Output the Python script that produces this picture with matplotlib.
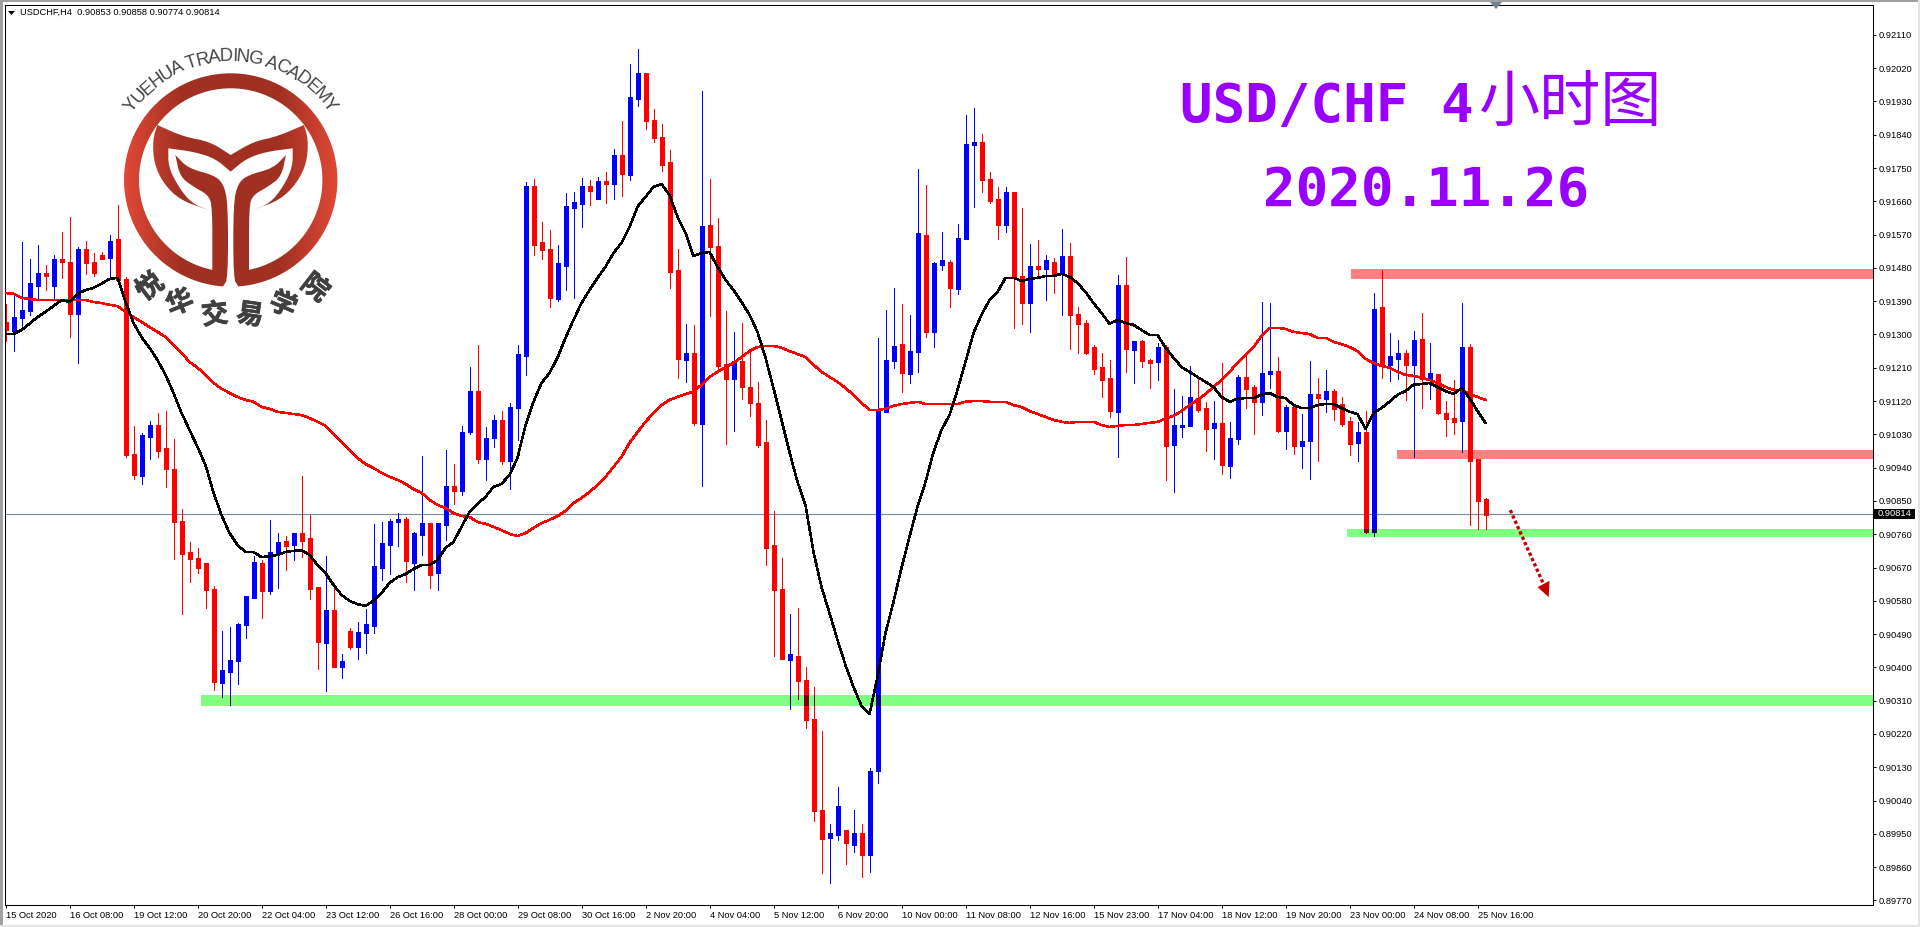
import matplotlib
matplotlib.use('Agg')
import matplotlib.pyplot as plt
import matplotlib.patheffects as pe
import numpy as np
from matplotlib.colors import to_rgb
from matplotlib.patches import Rectangle, Polygon, PathPatch
from matplotlib.path import Path

# USDCHF H4 prices, in points (1e-5)
highs = [91383,91407,91550,91504,91542,91488,91515,91577,91618,91537,
         91553,91520,91523,91569,91650,91456,91053,91034,91066,91088,
         91093,91018,90828,90739,90723,90682,90620,90498,90509,90520,
         90593,90701,90690,90799,90763,90755,90763,90918,90812,90617,
         90701,90628,90436,90507,90523,90558,90788,90793,90801,90817,
         90807,90766,90972,90790,90790,90988,90950,91053,91212,91272,
         91050,91082,91093,91115,91272,91712,91721,91604,91583,91542,
         91683,91685,91723,91718,91726,91740,91802,91877,92032,92072,
         92005,91910,91869,91799,91531,91329,91326,91959,91721,91615,
         91364,91307,91331,91255,91172,91069,90823,90696,90544,90561,
         90401,90347,90228,89977,90077,89960,90014,89977,90128,91291,
         91366,91426,91383,91353,91748,91704,91496,91577,91502,91599,
         91894,91913,91842,91740,91699,91699,91685,91642,91545,91556,
         91515,91507,91585,91548,91374,91339,91272,91250,91231,91461,
         91510,91283,91285,91234,91277,91272,91153,91134,91215,91185,
         91118,91120,91223,91064,91191,91245,91164,91388,91385,91239,
         91109,91104,91085,91228,91183,91204,91153,91131,91077,91064,
         91093,91412,91475,91304,91285,91258,91310,91358,91277,91193,
         91120,91177,91385,91274,90961,90858]
opens = [91334,91310,91345,91364,91431,91466,91431,91504,91496,91356,
         91531,91496,91515,91507,91556,91450,90977,90918,91023,91055,
         90991,90936,90796,90712,90696,90680,90612,90358,90388,90417,
         90515,90588,90682,90607,90707,90742,90731,90761,90750,90615,
         90466,90555,90401,90498,90455,90493,90512,90671,90731,90793,
         90801,90682,90758,90788,90655,90785,90888,90877,91036,91145,
         90964,91020,91069,90958,91101,91242,91699,91548,91529,91396,
         91485,91642,91653,91699,91666,91715,91707,91783,91731,91937,
         92005,91880,91834,91764,91472,91231,91250,91058,91594,91539,
         91220,91180,91226,91158,91115,91007,90731,90612,90420,90431,
         90366,90260,90014,89939,89947,89960,89922,89950,89895,90120,
         91091,91228,91272,91193,91253,91569,91307,91488,91496,91423,
         91558,91813,91818,91718,91664,91596,91685,91458,91385,91483,
         91477,91496,91464,91512,91353,91331,91264,91210,91180,91091,
         91434,91258,91280,91231,91226,91266,91001,91050,91053,91128,
         91099,91047,91061,90945,91018,91185,91158,91118,91193,91201,
         91039,91104,90999,91012,91139,91126,91145,91112,91064,91007,
         91034,90766,91372,91218,91234,91250,91218,91288,91180,91193,
         91088,91074,91066,91264,90961,90853]
closes = [91312,91345,91366,91437,91466,91458,91504,91496,91356,91531,
          91493,91466,91504,91553,91448,90974,90920,91026,91055,90985,
          90936,90793,90707,90693,90671,90609,90361,90393,90420,90517,
          90593,90685,90607,90712,90739,90728,90761,90744,90612,90469,
          90555,90401,90415,90455,90496,90515,90674,90734,90796,90799,
          90688,90761,90790,90652,90788,90890,90877,91036,91147,90964,
          91020,91069,90958,91104,91245,91699,91542,91529,91399,91493,
          91645,91656,91699,91688,91715,91707,91783,91734,91942,92005,
          91877,91831,91758,91469,91234,91250,91061,91591,91537,91215,
          91180,91226,91158,91115,91001,90723,90609,90423,90436,90363,
          90258,90012,89936,89950,90023,89925,89950,89895,90120,91093,
          91231,91269,91196,91253,91572,91307,91493,91499,91426,91561,
          91815,91818,91718,91661,91596,91685,91456,91385,91483,91477,
          91499,91461,91512,91353,91329,91250,91207,91177,91093,91434,
          91261,91280,91228,91223,91266,90999,91053,91055,91131,91096,
          91045,91061,90947,91020,91183,91153,91118,91196,91201,91039,
          91104,90999,91012,91139,91128,91145,91099,91058,91004,91034,
          90766,91369,91218,91242,91250,91218,91285,91180,91196,91088,
          91072,91064,91266,90958,90850,90814]
lows = [91283,91255,91323,91353,91399,91420,91399,91453,91293,91223,
        91464,91458,91504,91453,91448,90969,90909,90896,90964,90969,
        90888,90693,90544,90631,90655,90561,90339,90320,90298,90355,
        90479,90588,90534,90598,90615,90663,90690,90698,90585,90396,
        90336,90401,90371,90450,90423,90439,90493,90636,90652,90728,
        90631,90609,90704,90615,90609,90744,90842,90866,91031,90953,
        90907,90996,90950,90882,91015,91191,91515,91504,91374,91391,
        91420,91399,91591,91650,91666,91656,91666,91675,91718,91918,
        91856,91821,91742,91426,91183,91172,91055,90890,91350,91199,
        91004,91039,91126,91080,90996,90677,90431,90423,90287,90314,
        90236,89985,89844,89817,89933,89868,89901,89833,89847,90087,
        91091,91210,91145,91169,91199,91293,91266,91475,91374,91410,
        91558,91645,91685,91656,91558,91577,91318,91329,91307,91458,
        91393,91412,91353,91261,91250,91247,91193,91131,91077,90969,
        91199,91169,91212,91155,91177,90907,90874,91023,91053,91091,
        90985,90964,90923,90912,91004,91101,91031,91082,91155,91036,
        90991,90977,90939,90909,90958,91091,91069,91053,90974,90958,
        90763,90755,91183,91174,91180,91123,90969,91101,91126,91085,
        91026,91031,90982,90785,90774,90774]

# the two moving averages
ma_fast = [91301,91301,91312,91329,91347,91361,91377,91393,91388,91410,
           91420,91426,91437,91450,91453,91388,91331,91293,91264,91231,
           91191,91142,91088,91042,90996,90947,90872,90812,90763,90731,
           90712,90712,90698,90701,90704,90712,90715,90717,90704,90677,
           90655,90623,90596,90580,90571,90566,90580,90601,90628,90644,
           90652,90666,90677,90677,90690,90723,90739,90780,90820,90842,
           90861,90888,90896,90920,90966,91055,91118,91169,91196,91237,
           91291,91339,91385,91420,91453,91483,91520,91548,91591,91645,
           91672,91699,91707,91677,91618,91575,91512,91520,91523,91483,
           91448,91420,91388,91353,91307,91237,91155,91069,90982,90901,
           90839,90712,90617,90547,90474,90406,90347,90296,90274,90374,
           90493,90577,90669,90753,90834,90901,90982,91042,91082,91150,
           91226,91304,91353,91393,91415,91453,91453,91445,91450,91453,
           91458,91458,91464,91456,91439,91415,91385,91358,91329,91339,
           91331,91326,91312,91299,91299,91264,91237,91212,91199,91185,
           91172,91158,91131,91118,91126,91128,91128,91137,91142,91131,
           91128,91109,91101,91101,91109,91112,91112,91101,91091,91085,
           91045,91088,91101,91118,91137,91147,91164,91166,91169,91158,
           91147,91139,91155,91128,91093,91061]
ma_slow = [91412,91410,91399,91396,91393,91393,91393,91393,91393,91393,
           91393,91388,91385,91380,91377,91361,91347,91334,91320,91307,
           91293,91272,91250,91226,91210,91191,91169,91153,91142,91131,
           91123,91118,91104,91099,91091,91088,91085,91082,91074,91064,
           91053,91031,91009,90988,90966,90950,90939,90926,90915,90907,
           90896,90882,90872,90853,90839,90831,90817,90809,90807,90793,
           90788,90780,90771,90761,90755,90763,90777,90790,90799,90809,
           90823,90844,90858,90874,90893,90915,90942,90969,91007,91036,
           91064,91088,91109,91123,91131,91139,91145,91164,91185,91199,
           91212,91223,91239,91255,91266,91269,91269,91264,91255,91247,
           91239,91218,91199,91185,91172,91155,91137,91115,91096,91096,
           91099,91107,91112,91115,91118,91112,91112,91112,91112,91112,
           91118,91120,91120,91118,91118,91118,91109,91104,91093,91085,
           91077,91069,91064,91061,91064,91064,91064,91055,91050,91053,
           91055,91055,91058,91061,91064,91072,91080,91093,91109,91123,
           91139,91158,91177,91199,91223,91245,91266,91296,91318,91318,
           91315,91307,91304,91301,91291,91291,91280,91274,91266,91255,
           91234,91223,91215,91210,91199,91191,91188,91183,91177,91169,
           91158,91150,91150,91139,91131,91123]

time_labels = ['15 Oct 2020', '16 Oct 08:00', '19 Oct 12:00', '20 Oct 20:00', '22 Oct 04:00',
               '23 Oct 12:00', '26 Oct 16:00', '28 Oct 00:00', '29 Oct 08:00', '30 Oct 16:00',
               '2 Nov 20:00', '4 Nov 04:00', '5 Nov 12:00', '6 Nov 20:00', '10 Nov 00:00',
               '11 Nov 08:00', '12 Nov 16:00', '15 Nov 23:00', '17 Nov 04:00', '18 Nov 12:00',
               '19 Nov 20:00', '23 Nov 00:00', '24 Nov 08:00', '25 Nov 16:00']
price_ticks = [92110, 92020, 91930, 91840, 91750, 91660, 91570, 91480, 91390, 91300, 91210,
               91120, 91030, 90940, 90850, 90760, 90670, 90580, 90490, 90400, 90310, 90220,
               90130, 90040, 89950, 89860, 89770]

# hand drawn zones: first bar, price low, price high, colour
zones = [(168.2, 91450, 91477, '#FF8080'),
         (173.9, 90964, 90988, '#FF8080'),
         (167.7, 90753, 90774, '#80FF80'),
         (24.4, 90296, 90325, '#80FF80')]

W, H = 1920, 927
BLUE, RED = '#0000FF', '#FF0000'
TICK_FONT = 'Liberation Sans'
TICK_SIZE = 6.7

o, h, l, c = [np.array(a) / 1e5 for a in (opens, highs, lows, closes)]
idx = np.arange(len(o))
up = c >= o

fig = plt.figure(figsize=(W / 100, H / 100), dpi=100, facecolor='white')
ax = fig.add_axes([4.5 / W, 1 - 904.5 / H, 1868 / W, 900 / H])
ax.set_xlim(-0.125, 233.375)
ax.set_ylim(0.89759, 0.92192)

for first, lo, hi, col in zones:
    ax.add_patch(Rectangle((first, lo / 1e5), 240, (hi - lo) / 1e5, color=col, lw=0, zorder=1))

ax.axhline(c[-1], color='#778899', lw=0.8, zorder=1.5)


def draw_candles(up_col, down_col, z):
    cols = [up_col if u else down_col for u in up]
    wicks = ax.vlines(idx, l, h, colors=cols, lw=0.72, antialiased=False, zorder=z)
    # bodies as 5px thick segments, that keeps every candle the same width
    bodies = ax.vlines(idx, np.minimum(o, c) - 1e-5, np.maximum(o, c) + 1e-5, colors=cols, lw=3.6,
                       antialiased=False, capstyle='butt', zorder=z)
    return wicks, bodies


draw_candles(BLUE, RED, 2)

# zones multiply with the candles under them
for first, lo, hi, col in zones:
    clip = Rectangle((first, lo / 1e5), 240, (hi - lo) / 1e5, transform=ax.transData)
    b = np.array(to_rgb(col))
    wicks, bodies = draw_candles(tuple(np.array(to_rgb(BLUE)) * b), tuple(np.array(to_rgb(RED)) * b), 3)
    wicks.set_clip_path(clip)
    bodies.set_clip_path(clip)

ax.plot(idx, np.array(ma_slow) / 1e5, color=RED, lw=1.1, antialiased=False, zorder=4)
ax.plot(idx, np.array(ma_fast) / 1e5, color='black', lw=1.1, antialiased=False, zorder=5)

# projected move
ax.plot([188.1, 192.3], [0.90825, 0.90623], color='#C00000', lw=2.4, ls=(0, (1, 0.75)),
        dash_capstyle='butt', zorder=6)
ax.add_patch(Polygon([(191.5, 0.90617), (193.0, 0.90634), (192.9, 0.90590)], closed=True,
                     color='#C00000', lw=0, zorder=6))

ax.yaxis.tick_right()
ax.set_yticks(np.array(price_ticks) / 1e5)
ax.set_yticklabels([f'{p / 1e5:.5f}' for p in price_ticks], fontsize=TICK_SIZE, family=TICK_FONT)
ax.set_xticks(idx[::8])
ax.set_xticklabels(time_labels, fontsize=TICK_SIZE, family=TICK_FONT, ha='left')
ax.tick_params(axis='y', length=2.2, width=0.75, pad=2.5, color='black')
ax.tick_params(axis='x', length=2.5, width=0.75, pad=2.0, color='black')
for spine in ax.spines.values():
    spine.set_linewidth(0.75)

# overlay in screen pixels for the window chrome, logo and headline
top = fig.add_axes([0, 0, 1, 1], facecolor='none')
top.set_xlim(0, W)
top.set_ylim(H, 0)
top.axis('off')
top.patch.set_visible(False)

top.add_patch(Rectangle((0, 0), W, 1.6, color='#A0A0A0', lw=0))
top.add_patch(Rectangle((0, 0), 2.5, H, color='#A0A0A0', lw=0))
top.add_patch(Rectangle((0, 925), W, 2, color='#E4E4E4', lw=0))
top.add_patch(Rectangle((1918, 0), 2, H, color='#E4E4E4', lw=0))

top.add_patch(Polygon([(8, 11), (15, 11), (11.5, 15)], closed=True, color='black', lw=0))
top.add_patch(Polygon([(1490, 2), (1502, 2), (1496, 9)], closed=True, color='#708090', lw=0))
top.text(20, 12.5, f'USDCHF,H4  {o[-1]:.5f} {h[-1]:.5f} {l[-1]:.5f} {c[-1]:.5f}', fontsize=TICK_SIZE,
         family=TICK_FONT, va='center', ha='left', color='black')

# current price tag
top.add_patch(Rectangle((1874, 509), 41, 10, color='black', lw=0))
top.text(1878, 514, f'{c[-1]:.5f}', fontsize=TICK_SIZE, family=TICK_FONT, va='center', ha='left', color='white')

# headline
PURPLE = '#9900FF'
top.text(1180, 122, 'USD/CHF 4', fontsize=39, family='DejaVu Sans Mono', weight='bold',
         color=PURPLE, va='baseline', ha='left')
top.text(1478, 122, '小时图', fontsize=44, family='Noto Sans CJK SC', color=PURPLE,
         va='baseline', ha='left')
top.text(1263, 206, '2020.11.26', fontsize=39, family='DejaVu Sans Mono', weight='bold',
         color=PURPLE, va='baseline', ha='left')


# logo
def chaikin(pts, rounds=2):
    pts = np.array(pts, dtype=float)
    for _ in range(rounds):
        a, b = pts[:-1], pts[1:]
        mid = np.empty((len(a) * 2, 2))
        mid[0::2] = 0.75 * a + 0.25 * b
        mid[1::2] = 0.25 * a + 0.75 * b
        pts = np.vstack([pts[0], mid, pts[-1]])
    return pts


def crop_to_px(pts):
    pts = np.array(pts, dtype=float)
    return np.column_stack([100 + pts[:, 0] / 3, 40 + pts[:, 1] / 3])


CX, CY, R_OUT, R_IN = 230.7, 180.0, 106.7, 91.7


def arc(radius, start, stop):
    t = np.radians(np.linspace(start, stop, 120))
    return np.column_stack([CX + radius * np.sin(t), CY - radius * np.cos(t)])


ring = np.vstack([
    arc(R_IN, -168.5, 168.5),
    crop_to_px(chaikin([(447, 690), (447, 500), (459, 465), (504, 440), (544, 410), (558, 345)])),
    crop_to_px(chaikin([(558, 345), (519, 385), (444, 405), (414, 430), (400, 490), (400, 715), (414, 738)])),
    arc(R_OUT, 176, -176),
    crop_to_px(chaikin([(370, 738), (384, 715), (384, 490), (370, 430), (340, 405), (265, 385), (226, 345)])),
    crop_to_px(chaikin([(226, 345), (240, 410), (280, 440), (325, 465), (337, 500), (337, 690)])),
])
tail = np.vstack([
    crop_to_px(chaikin([(172, 255), (250, 290), (330, 305), (392, 345)])),
    crop_to_px(chaikin([(392, 345), (460, 305), (530, 290), (612, 255)])),
    crop_to_px(chaikin([(612, 255), (625, 300), (620, 370), (590, 430), (540, 480), (458, 510)])),
    crop_to_px(chaikin([(458, 510), (510, 490), (550, 440), (578, 380), (578, 325)])),
    crop_to_px(chaikin([(578, 325), (500, 335), (440, 355), (392, 395)])),
    crop_to_px(chaikin([(392, 395), (345, 355), (280, 335), (205, 325)])),
    crop_to_px(chaikin([(205, 325), (205, 380), (235, 440), (275, 490), (326, 510)])),
    crop_to_px(chaikin([(326, 510), (240, 480), (190, 430), (162, 370), (158, 300), (172, 255)])),
])
verts = np.vstack([ring, ring[0], tail, tail[0]])
codes = np.full(len(verts), Path.LINETO)
codes[0] = Path.MOVETO
codes[len(ring)] = Path.CLOSEPOLY
codes[len(ring) + 1] = Path.MOVETO
codes[-1] = Path.CLOSEPOLY
logo_path = Path(verts, codes)

# colour runs darker towards the middle of the logo
dist = np.abs(np.linspace(-1, 1, 256))
shade = np.clip((dist - 0.45) / 0.55, 0, 1)[None, :, None]
grad = np.array(to_rgb('#A03022'))[None, None, :] * (1 - shade) + np.array(to_rgb('#E04836'))[None, None, :] * shade
img = top.imshow(grad, extent=(124, 338, 288, 72), aspect='auto', interpolation='bilinear')
img.set_clip_path(PathPatch(logo_path, transform=top.transData))
top.set_xlim(0, W)
top.set_ylim(H, 0)

arc_text = 'YUEHUA TRADING ACADEMY'
arc_em = [.667, .722, .667, .722, .722, .667, .278, .611, .722, .667, .722, .278, .722, .778, .278,
          .667, .722, .667, .722, .667, .833, .667]
arc_size, arc_radius = 18.5, 119.0
pos = np.cumsum([0] + arc_em[:-1]) + np.array(arc_em) / 2 - sum(arc_em) / 2
for ch, p in zip(arc_text, pos):
    theta = p * arc_size * 0.88 / arc_radius
    top.text(CX + arc_radius * np.sin(theta), CY - arc_radius * np.cos(theta), ch,
             fontsize=arc_size * 0.72, family='Liberation Sans', color='#454545',
             rotation=-np.degrees(theta), rotation_mode='anchor', ha='center', va='baseline')

cn_name = '悦华交易学院'
cn_x = [150, 180, 215, 250, 283, 315]
cn_y = [287, 303, 315, 315, 305, 288]
for ch, x, y in zip(cn_name, cn_x, cn_y):
    top.text(x, y, ch, fontsize=19.5, family='Noto Sans CJK SC', weight='bold', color='#404040',
             rotation=-np.degrees(np.arctan2(x - CX, y - CY)), rotation_mode='anchor',
             ha='center', va='center',
             path_effects=[pe.withStroke(linewidth=0.5, foreground='#404040')])

fig.savefig('out.png', dpi=100, facecolor='white')
plt.close(fig)
